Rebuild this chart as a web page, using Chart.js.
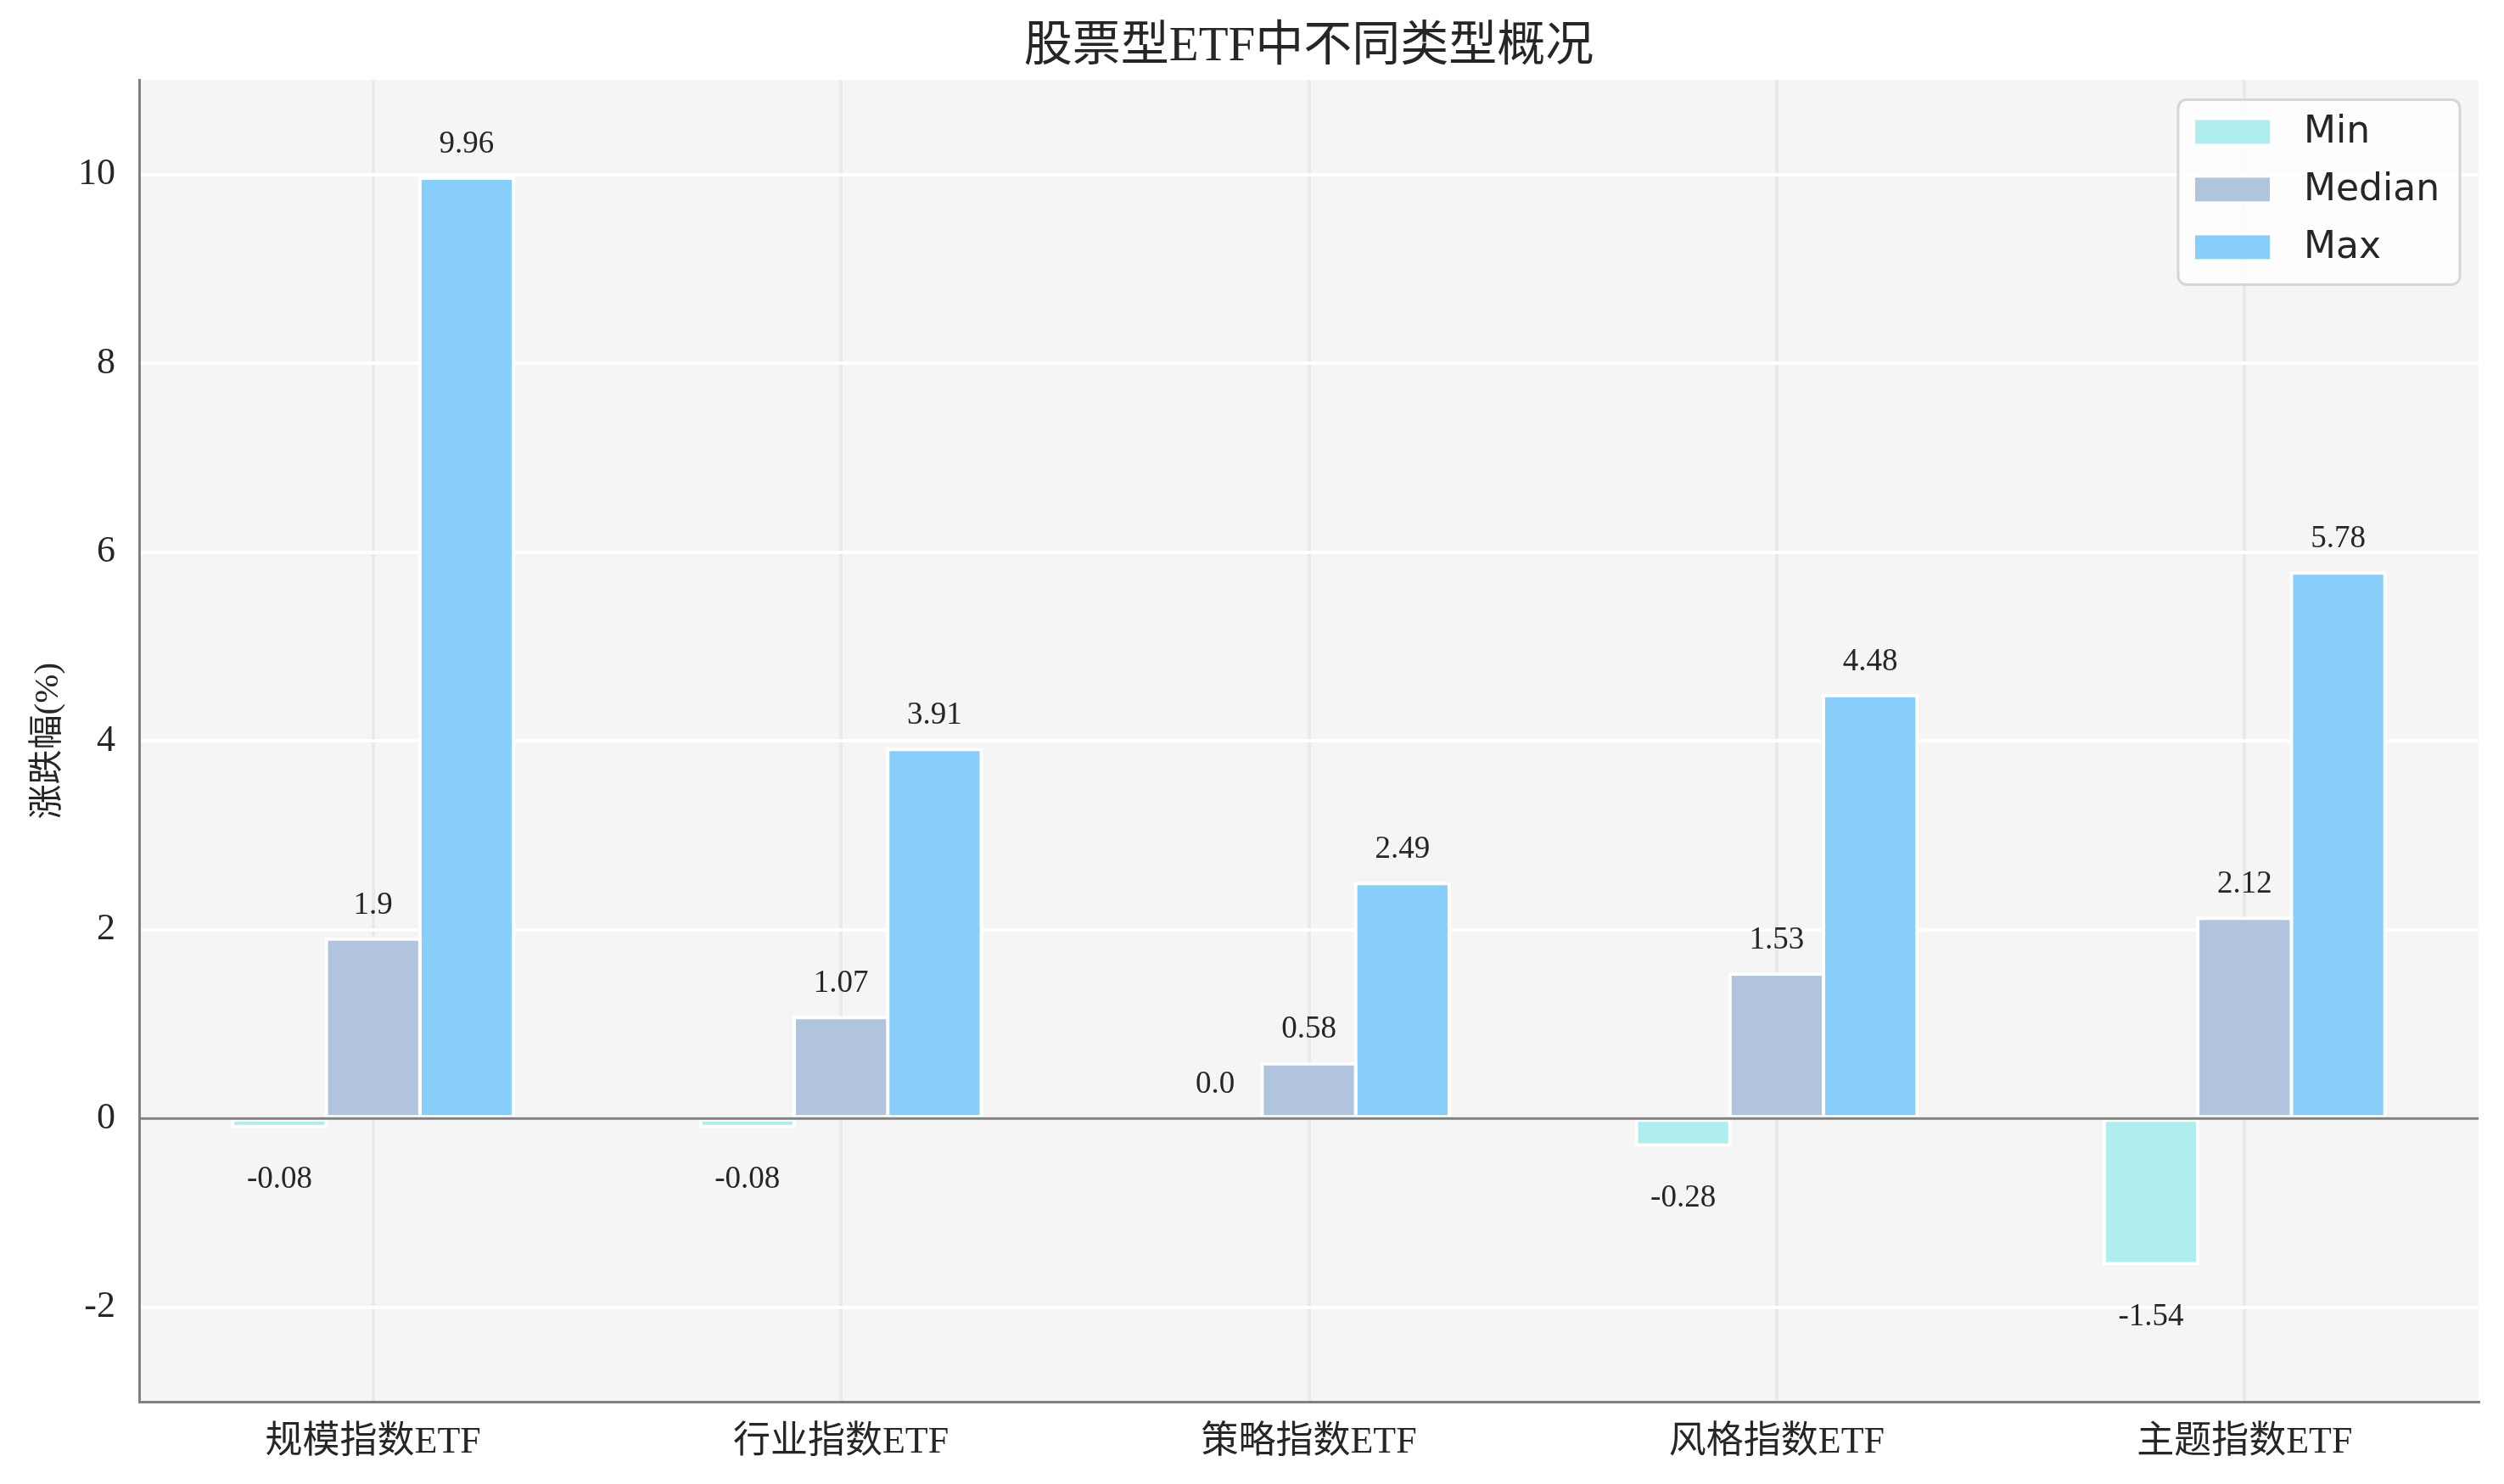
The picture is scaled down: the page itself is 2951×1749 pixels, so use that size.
<!DOCTYPE html>
<html>
<head>
<meta charset="utf-8">
<script src="https://cdn.jsdelivr.net/npm/chart.js@4.4.0/dist/chart.umd.min.js"></script>
<style>
  html, body { margin: 0; padding: 0; background: #fff; }
  canvas { display: block; }
</style>
</head>
<body>
<canvas id="etfChart" width="2951" height="1749"></canvas>
<script>
// data
const categories = ["规模指数ETF", "行业指数ETF", "策略指数ETF", "风格指数ETF", "主题指数ETF"];
const seriesNames = ["Min", "Median", "Max"];
const minValues = [-0.08, -0.08, 0.0, -0.28, -1.54];
const medianValues = [1.9, 1.07, 0.58, 1.53, 2.12];
const maxValues = [9.96, 3.91, 2.49, 4.48, 5.78];
const yTicks = [-2, 0, 2, 4, 6, 8, 10];

const seriesColors = ["#afeeee", "#b0c4de", "#87cefa"];
const serifFont = "'Liberation Serif', 'Noto Sans CJK SC', serif";
const textColor = "#262626";

// 0.0 instead of 0, like python's str(float)
function fmt(v) {
  return Number.isInteger(v) ? v.toFixed(1) : String(v);
}

// grey plot background
const plotBackground = {
  id: "plotBackground",
  beforeDraw(chart) {
    const { ctx, chartArea: a } = chart;
    ctx.save();
    ctx.fillStyle = "#f5f5f5";
    ctx.fillRect(a.left, a.top, a.right - a.left, a.bottom - a.top);
    ctx.restore();
  }
};

// horizontal line at 0 + value labels over / under the bars
const barExtras = {
  id: "barExtras",
  afterDatasetsDraw(chart) {
    const { ctx, chartArea: a } = chart;
    const y0 = chart.scales.y.getPixelForValue(0);
    ctx.save();
    ctx.strokeStyle = "#808080";
    ctx.lineWidth = 3;
    ctx.beginPath();
    ctx.moveTo(a.left, y0);
    ctx.lineTo(a.right, y0);
    ctx.stroke();

    ctx.font = "37px " + serifFont;
    ctx.fillStyle = textColor;
    ctx.textAlign = "center";
    ctx.textBaseline = "middle";
    chart.data.datasets.forEach((ds, i) => {
      chart.getDatasetMeta(i).data.forEach((bar, j) => {
        const v = ds.data[j];
        const y = v >= 0 ? bar.y - 40 : bar.y + 63;
        ctx.fillText(fmt(v), bar.x, y);
      });
    });
    ctx.restore();
  }
};

// matplotlib-like legend box in the upper right corner of the plot
const boxLegend = {
  id: "boxLegend",
  afterDraw(chart) {
    const { ctx, chartArea: a } = chart;
    const w = 332, h = 218;
    const x = a.right - 22 - w, y = a.top + 23;
    ctx.save();
    ctx.beginPath();
    ctx.roundRect(x, y, w, h, 10);
    ctx.fillStyle = "rgba(255,255,255,0.8)";
    ctx.fill();
    ctx.lineWidth = 3;
    ctx.strokeStyle = "#d6d6d6";
    ctx.stroke();

    ctx.font = "44px 'DejaVu Sans'";
    ctx.textBaseline = "middle";
    ctx.textAlign = "left";
    chart.data.datasets.forEach((ds, i) => {
      const rowY = y + 24 + i * 68;
      ctx.fillStyle = "#ffffff";
      ctx.fillRect(x + 17, rowY - 3, 94, 34);
      ctx.fillStyle = ds.backgroundColor;
      ctx.fillRect(x + 20, rowY, 88, 28);
      ctx.fillStyle = textColor;
      ctx.fillText(ds.label, x + 148, rowY + 15);
    });
    ctx.restore();
  }
};

const datasets = [minValues, medianValues, maxValues].map((values, i) => ({
  label: seriesNames[i],
  data: values,
  backgroundColor: seriesColors[i],
  borderColor: "#ffffff",
  borderWidth: 4,
  borderSkipped: false,
  inflateAmount: 2,
  categoryPercentage: 0.6,
  barPercentage: 1.0
}));

Chart.defaults.font.family = serifFont;
Chart.defaults.color = textColor;

new Chart(document.getElementById("etfChart"), {
  type: "bar",
  data: { labels: categories, datasets: datasets },
  plugins: [plotBackground, barExtras, boxLegend],
  options: {
    responsive: false,
    animation: false,
    devicePixelRatio: 1,
    layout: { padding: { top: 0, right: 30, bottom: 0, left: 0 } },
    plugins: {
      legend: { display: false },
      tooltip: { enabled: false },
      title: {
        display: true,
        fullSize: false,
        text: "股票型ETF中不同类型概况",
        font: { size: 57, weight: "normal" },
        color: textColor,
        padding: { top: 22, bottom: 4 }
      }
    },
    scales: {
      x: {
        offset: true,
        grid: { offset: false, color: "#e9e9e9", lineWidth: 4, drawTicks: false },
        border: { color: "#808080", width: 3 },
        ticks: { font: { size: 44 }, padding: 22, maxRotation: 0, autoSkip: false },
        afterFit(scale) { scale.height = 97; }
      },
      y: {
        min: -3,
        max: 11,
        grid: { color: "#ffffff", lineWidth: 4, drawTicks: false },
        border: { color: "#808080", width: 3 },
        ticks: { font: { size: 44 }, padding: 28, callback: v => String(v) },
        afterBuildTicks(scale) { scale.ticks = yTicks.map(v => ({ value: v })); },
        afterFit(scale) { scale.width = 164; },
        title: {
          display: true,
          text: "涨跌幅(%)",
          font: { size: 41 },
          color: textColor,
          padding: { top: 33, bottom: 0 }
        }
      }
    }
  }
});
</script>
</body>
</html>
